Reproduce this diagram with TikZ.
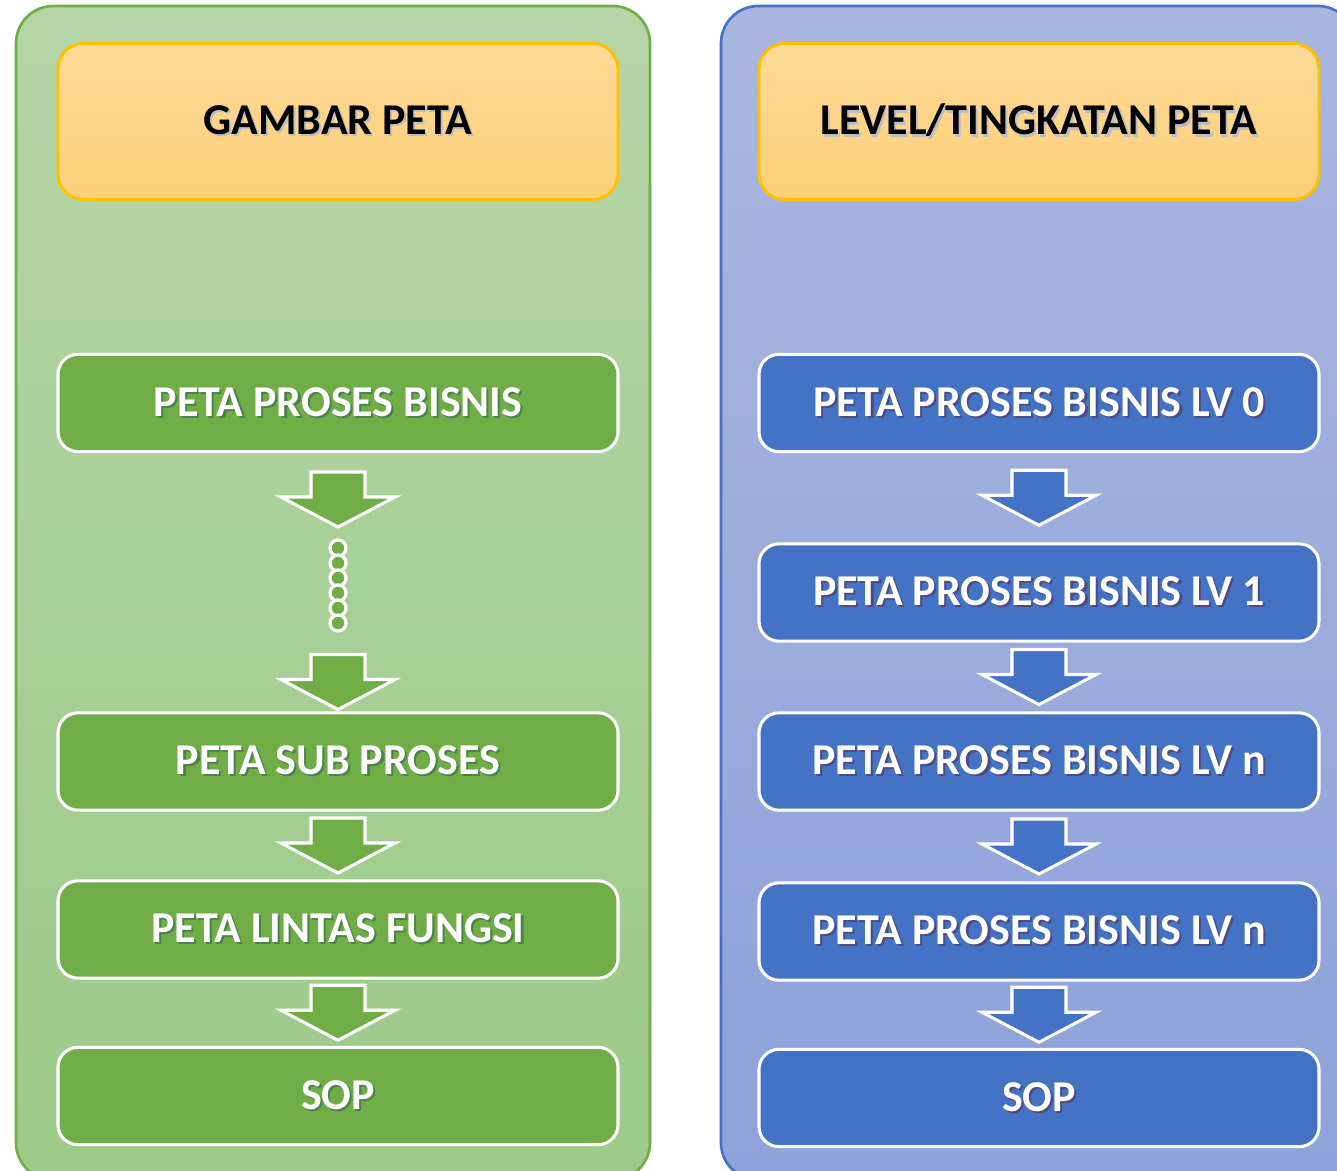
\documentclass[tikz,border=0pt]{standalone}
\usepackage{fontspec}
\setmainfont{Carlito}
\usetikzlibrary{calc}
\definecolor{gpTop}{HTML}{B5D5A7}
\definecolor{gpBot}{HTML}{9DCA89}
\definecolor{gBorder}{HTML}{70AD47}
\definecolor{bpTop}{HTML}{A9B6DF}
\definecolor{bpBot}{HTML}{8EA2D9}
\definecolor{bBorder}{HTML}{4472C4}
\definecolor{hTop}{HTML}{FDDA98}
\definecolor{hBot}{HTML}{FCCF78}
\definecolor{hBorder}{HTML}{FFC000}
\newcommand\shd[2]{\leavevmode\rlap{\kern1.6pt\raisebox{-1.6pt}{\textcolor{#1}{#2}}}#2}
\tikzset{
  txt/.style={font=\fontsize{33}{40}\selectfont\bfseries},
  headbox/.style={txt, rounded corners=19pt, draw=hBorder, line width=2.2pt,
    top color=hTop, bottom color=hBot, minimum width=420pt, minimum height=117pt, text=black},
  gbox/.style={txt, rounded corners=15pt, draw=white, line width=2.3pt, fill=gBorder,
    minimum width=420pt, minimum height=73pt, text=white},
  bbox/.style={txt, rounded corners=15pt, draw=white, line width=2.3pt, fill=bBorder,
    minimum width=420pt, minimum height=73pt, text=white},
  pics/downarrow/.style={code={
    \draw[fill=#1, draw=white, line width=2.3pt, line join=miter]
      (-27,-27.5) -- (27,-27.5) -- (27,-2.5) -- (57,-2.5) -- (0,27.5)
      -- (-57,-2.5) -- (-27,-2.5) -- cycle;}},
  dot/.style={draw=white, line width=2.4pt, fill=gBorder}
}
\begin{document}
\begin{tikzpicture}[x=0.75pt,y=-0.75pt]
\useasboundingbox (0,0) rectangle (1337,1170);
\begin{scope}
\clip (0,0) rectangle (1337,1170);
% panels
\shade[top color=gpTop, bottom color=gpBot, rounded corners=28pt] (16,6) rectangle (650,1180);
\draw[gBorder, line width=2pt, rounded corners=28pt] (16,6) rectangle (650,1180);
\shade[top color=bpTop, bottom color=bpBot, rounded corners=28pt] (721,6) rectangle (1355,1180);
\draw[bBorder, line width=2pt, rounded corners=28pt] (721,6) rectangle (1355,1180);
\end{scope}

% headers
\node[headbox] (h1) at (338,121.5) {\shd{black!25}{GAMBAR PETA}};
\node[headbox] (h2) at (1039,121.5) {\shd{black!25}{LEVEL/TINGKATAN PETA}};

% left column
\node[gbox] (g1) at (338,403) {\shd{green!30!black!70}{PETA PROSES BISNIS}};
\node[gbox] (g2) at (338,761.5) {\shd{green!30!black!70}{PETA SUB PROSES}};
\node[gbox] (g3) at (338,929.5) {\shd{green!30!black!70}{PETA LINTAS FUNGSI}};
\node[gbox] (g4) at (338,1096) {\shd{green!30!black!70}{SOP}};

\pic at (338,499.5) {downarrow=gBorder};
\foreach \i in {548,563,578,593,608,623}
  \draw[dot] (338,\i) circle (8);
\pic at (338,682) {downarrow=gBorder};
\pic at ($(g2.south)!0.5!(g3.north)$) {downarrow=gBorder};
\pic at ($(g3.south)!0.5!(g4.north)$) {downarrow=gBorder};

% right column
\node[bbox] (b1) at (1039,403) {\shd{blue!30!black!70}{PETA PROSES BISNIS LV 0}};
\node[bbox] (b2) at (1039,592.5) {\shd{blue!30!black!70}{PETA PROSES BISNIS LV 1}};
\node[bbox] (b3) at (1039,761.5) {\shd{blue!30!black!70}{PETA PROSES BISNIS LV n}};
\node[bbox] (b4) at (1039,931.5) {\shd{blue!30!black!70}{PETA PROSES BISNIS LV n}};
\node[bbox] (b5) at (1039,1098) {\shd{blue!30!black!70}{SOP}};

\pic at ($(b1.south)!0.5!(b2.north)$) {downarrow=bBorder};
\pic at ($(b2.south)!0.5!(b3.north)$) {downarrow=bBorder};
\pic at ($(b3.south)!0.5!(b4.north)$) {downarrow=bBorder};
\pic at ($(b4.south)!0.5!(b5.north)$) {downarrow=bBorder};
\end{tikzpicture}
\end{document}
